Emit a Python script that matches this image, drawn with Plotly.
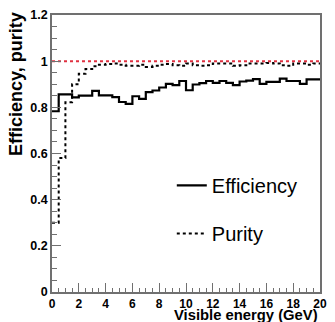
import plotly.graph_objects as go

# Bin left edges (GeV), 0.5 GeV bins, plus the final right edge
bin_edges = [0.0, 0.5, 1.0, 1.5, 2.0, 2.5, 3.0, 3.5, 4.0, 4.5,
             5.0, 5.5, 6.0, 6.5, 7.0, 7.5, 8.0, 8.5, 9.0, 9.5,
             10.0, 10.5, 11.0, 11.5, 12.0, 12.5, 13.0, 13.5, 14.0, 14.5,
             15.0, 15.5, 16.0, 16.5, 17.0, 17.5, 18.0, 18.5, 19.0, 19.5, 20.0]

efficiency = [0.783, 0.856, 0.856, 0.843, 0.851, 0.851, 0.871, 0.852, 0.852, 0.844,
              0.823, 0.815, 0.848, 0.837, 0.866, 0.873, 0.886, 0.902, 0.896, 0.914,
              0.874, 0.899, 0.905, 0.914, 0.906, 0.914, 0.906, 0.896, 0.912, 0.916,
              0.922, 0.902, 0.910, 0.910, 0.924, 0.914, 0.914, 0.902, 0.921, 0.921]

purity = [0.300, 0.580, 0.822, 0.900, 0.945, 0.966, 0.978, 0.985, 0.988, 0.990,
          0.985, 0.980, 0.980, 0.985, 0.975, 0.980, 0.985, 0.988, 0.982, 0.980,
          0.990, 0.982, 0.980, 0.982, 0.990, 0.990, 0.990, 0.980, 0.982, 0.990,
          0.990, 0.990, 0.992, 0.990, 0.982, 0.980, 0.990, 0.990, 0.985, 0.990]

ref_x = [0.0, 20.0]
ref_y = [1.0, 1.0]

x_tick_vals = [0, 2, 4, 6, 8, 10, 12, 14, 16, 18, 20]
y_tick_vals = [0, 0.2, 0.4, 0.6, 0.8, 1.0, 1.2]

FONT = "Liberation Sans"
AXIS_COLOR = "#707070"

fig = go.Figure()

fig.add_trace(go.Scatter(
    x=bin_edges, y=efficiency + [efficiency[-1]],
    mode="lines", line=dict(shape="hv", color="black", width=2.2),
    name="Efficiency", legendgroup="eff",
))
fig.add_trace(go.Scatter(
    x=bin_edges, y=purity + [purity[-1]],
    mode="lines", line=dict(shape="hv", color="black", width=2, dash="dot"),
    name="Purity", legendgroup="pur",
))
fig.add_trace(go.Scatter(
    x=ref_x, y=ref_y, mode="lines",
    line=dict(color="#e03040", width=2, dash="dot"),
    showlegend=False,
))

fig.update_layout(
    width=335, height=322,
    margin=dict(l=52, r=8, t=12, b=30),
    paper_bgcolor="white", plot_bgcolor="white",
    font=dict(family=FONT, color="black"),
    legend=dict(
        x=0.447, y=0.455, xanchor="left", yanchor="top",
        font=dict(family=FONT, size=20, color="black"),
        bgcolor="rgba(0,0,0,0)", tracegroupgap=19,
        traceorder="grouped",
    ),
    xaxis=dict(
        range=[0, 20], tickvals=x_tick_vals,
        ticks="inside", ticklen=9, tickwidth=1.2, tickcolor=AXIS_COLOR,
        minor=dict(ticks="inside", ticklen=4, dtick=0.5, tickcolor=AXIS_COLOR, tickwidth=1.2),
        showline=True, linecolor=AXIS_COLOR, linewidth=1.5, mirror=True,
        showgrid=False, zeroline=False,
        tickfont=dict(family=FONT, size=12, weight="bold", color="black"),
    ),
    yaxis=dict(
        range=[0, 1.2], tickvals=y_tick_vals,
        ticks="inside", ticklen=9, tickwidth=1.2, tickcolor=AXIS_COLOR,
        minor=dict(ticks="inside", ticklen=5, dtick=0.05, tickcolor=AXIS_COLOR, tickwidth=1.2),
        showline=True, linecolor=AXIS_COLOR, linewidth=1.5, mirror=True,
        showgrid=False, zeroline=False,
        tickfont=dict(family=FONT, size=12.5, weight="bold", color="black"),
    ),
    annotations=[
        dict(text="Visible energy (GeV)", xref="paper", yref="paper",
             x=1, y=0, xanchor="right", yanchor="top", yshift=-13,
             showarrow=False,
             font=dict(family=FONT, size=14.8, weight="bold", color="black")),
        dict(text="Efficiency, purity", xref="paper", yref="paper",
             x=0, y=1, xanchor="center", yanchor="top", xshift=-36, yshift=5,
             textangle=-90, showarrow=False,
             font=dict(family=FONT, size=18, weight="bold", color="black")),
    ],
)

fig.write_html("out.html")
